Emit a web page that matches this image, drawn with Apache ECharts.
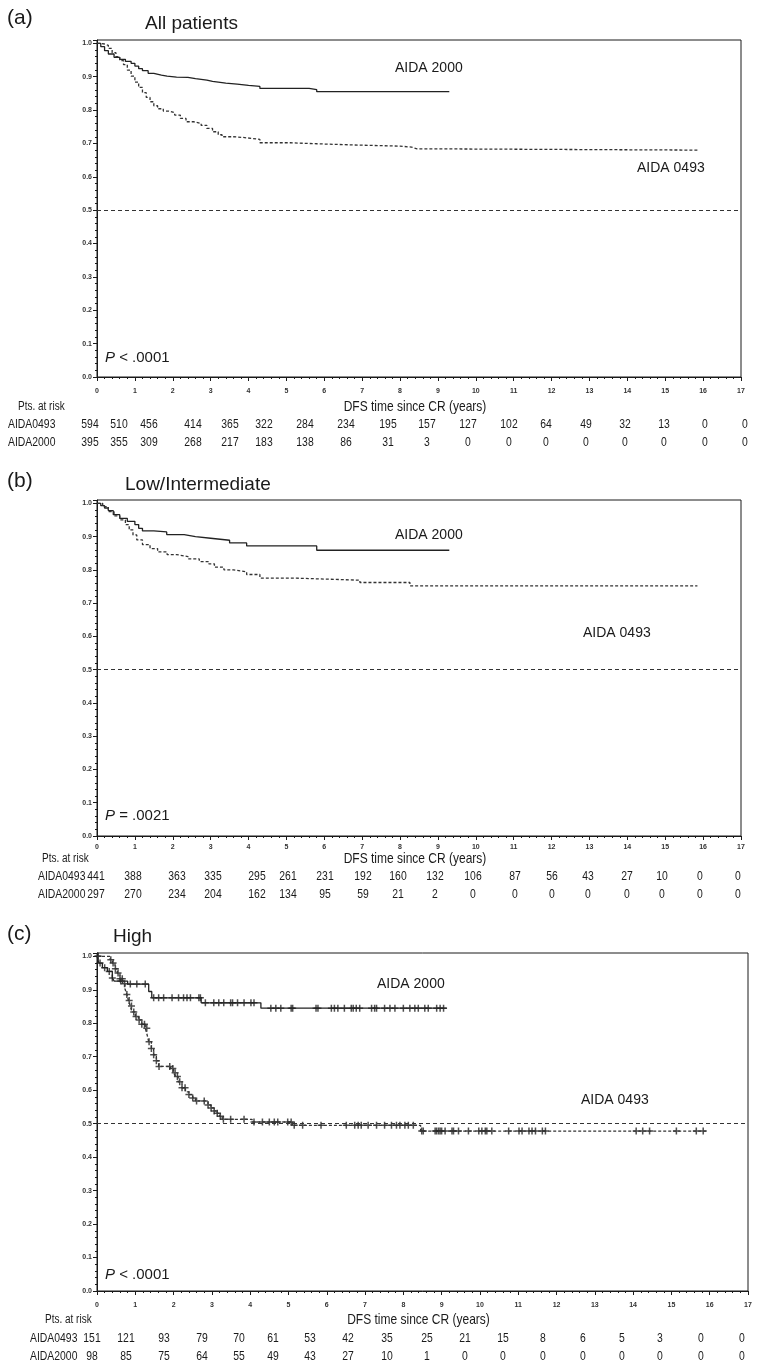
<!DOCTYPE html>
<html>
<head>
<meta charset="utf-8">
<script src="https://cdn.jsdelivr.net/npm/echarts@6/dist/echarts.min.js"></script>
<style>
html,body{margin:0;padding:0;background:#fff;}
#chart{width:770px;height:1370px;}
</style>
</head>
<body>
<div id="chart"></div>
<script>
// ---------------- DATA ----------------
const years = [0,1,2,3,4,5,6,7,8,9,10,11,12,13,14,15,16,17];

// Panel (a) All patients: Kaplan-Meier steps [time (years), DFS]
const a2000 = [[0,1.0],[0.1,0.99],[0.2,0.978],[0.3,0.968],[0.45,0.958],[0.6,0.952],[0.75,0.946],[0.9,0.94],[1.0,0.932],[1.1,0.924],[1.2,0.918],[1.35,0.91],[1.5,0.905],[1.7,0.902],[1.85,0.899],[2.1,0.898],[2.4,0.894],[2.6,0.89],[2.9,0.886],[3.05,0.881],[3.4,0.878],[3.7,0.874],[4.0,0.871],[4.3,0.865],[5.6,0.861],[5.8,0.855],[9.3,0.855]];
const a0493 = [[0,1.0],[0.1,0.998],[0.2,0.994],[0.3,0.985],[0.4,0.972],[0.5,0.96],[0.6,0.948],[0.7,0.936],[0.8,0.92],[0.9,0.902],[1.0,0.884],[1.1,0.868],[1.2,0.852],[1.3,0.838],[1.4,0.825],[1.5,0.813],[1.6,0.804],[1.75,0.797],[1.9,0.792],[2.05,0.785],[2.2,0.775],[2.35,0.765],[2.55,0.76],[2.75,0.754],[2.9,0.745],[3.05,0.735],[3.2,0.726],[3.3,0.72],[3.6,0.718],[3.85,0.715],[4.1,0.712],[4.3,0.702],[5.1,0.699],[5.8,0.695],[6.9,0.692],[8.0,0.689],[8.3,0.684],[8.45,0.68],[15.9,0.68]];

// Panel (b) Low/Intermediate
const b2000 = [[0,1.0],[0.1,0.993],[0.2,0.986],[0.3,0.978],[0.43,0.966],[0.6,0.955],[0.8,0.946],[1.0,0.936],[1.1,0.925],[1.2,0.917],[1.5,0.914],[1.84,0.906],[2.3,0.9],[2.6,0.895],[3.0,0.889],[3.5,0.881],[3.95,0.872],[5.8,0.859],[9.3,0.859]];
const b0493 = [[0,1.0],[0.15,0.99],[0.3,0.975],[0.45,0.962],[0.6,0.95],[0.75,0.936],[0.85,0.92],[0.95,0.905],[1.05,0.89],[1.2,0.876],[1.4,0.864],[1.6,0.854],[1.85,0.846],[2.1,0.84],[2.4,0.833],[2.7,0.825],[2.95,0.818],[3.1,0.808],[3.35,0.8],[3.6,0.794],[3.95,0.786],[4.3,0.775],[5.27,0.769],[6.94,0.762],[8.26,0.752],[15.85,0.752]];

// Panel (c) High
const c2000 = [[0,1.0],[0.05,0.98],[0.14,0.966],[0.27,0.955],[0.4,0.935],[0.45,0.926],[0.8,0.917],[1.35,0.895],[1.43,0.876],[2.72,0.861],[4.28,0.845],[9.13,0.845]];
const c0493 = [[0,1.0],[0.34,0.99],[0.4,0.98],[0.47,0.963],[0.53,0.95],[0.6,0.933],[0.67,0.918],[0.73,0.903],[0.78,0.886],[0.82,0.868],[0.87,0.852],[0.91,0.834],[1.0,0.82],[1.08,0.81],[1.17,0.797],[1.26,0.785],[1.31,0.765],[1.35,0.745],[1.42,0.725],[1.48,0.706],[1.55,0.688],[1.61,0.671],[1.92,0.665],[2.0,0.652],[2.05,0.641],[2.12,0.625],[2.22,0.607],[2.31,0.595],[2.4,0.587],[2.5,0.577],[2.57,0.568],[2.83,0.566],[2.9,0.556],[2.97,0.547],[3.05,0.538],[3.14,0.531],[3.2,0.522],[3.27,0.513],[4.05,0.505],[5.1,0.495],[8.45,0.478],[15.96,0.478]];
// censored observation times (years), panel (c)
const c2000Cens = [0.02,0.08,0.2,0.32,0.4,0.62,0.87,1.04,1.26,1.48,1.61,1.74,1.96,2.13,2.26,2.35,2.44,2.66,2.7,2.83,3.05,3.18,3.31,3.49,3.54,3.67,3.84,4.02,4.1,4.54,4.67,4.8,5.07,5.11,5.72,5.77,6.12,6.2,6.29,6.46,6.64,6.69,6.77,6.86,7.17,7.25,7.3,7.51,7.65,7.78,8.0,8.17,8.3,8.39,8.56,8.65,8.87,8.96,9.05];
const c0493Cens = [0.03,0.36,0.42,0.48,0.55,0.6,0.66,0.72,0.78,0.84,0.9,0.96,1.02,1.1,1.17,1.24,1.3,1.36,1.42,1.48,1.55,1.62,1.9,1.98,2.04,2.1,2.16,2.22,2.3,2.4,2.5,2.6,2.8,2.9,2.98,3.06,3.14,3.22,3.3,3.49,3.84,4.1,4.32,4.5,4.63,4.72,4.98,5.07,5.15,5.37,5.85,6.51,6.73,6.82,6.9,7.08,7.3,7.51,7.69,7.82,7.91,8.04,8.13,8.26,8.48,8.52,8.83,8.87,8.92,8.96,9.0,9.09,9.27,9.31,9.44,9.7,9.97,10.05,10.14,10.18,10.31,10.75,11.02,11.1,11.28,11.36,11.45,11.63,11.71,14.08,14.25,14.43,15.13,15.65,15.83];

// Patients at risk (years 0..17)
const aRisk0493 = [594,510,456,414,365,322,284,234,195,157,127,102,64,49,32,13,0,0];
const aRisk2000 = [395,355,309,268,217,183,138,86,31,3,0,0,0,0,0,0,0,0];
const bRisk0493 = [441,388,363,335,295,261,231,192,160,132,106,87,56,43,27,10,0,0];
const bRisk2000 = [297,270,234,204,162,134,95,59,21,2,0,0,0,0,0,0,0,0];
const cRisk0493 = [151,121,93,79,70,61,53,42,35,25,21,15,8,6,5,3,0,0];
const cRisk2000 = [98,85,75,64,55,49,43,27,10,1,0,0,0,0,0,0,0,0];

const titles = ['All patients','Low/Intermediate','High'];
const panelTags = ['(a)','(b)','(c)'];
const pTexts = ['< .0001','= .0021','< .0001'];

// ---------------- LAYOUT ----------------
const FONT = '"Liberation Sans", Arial, Helvetica, sans-serif';
const NARROW_SCALE = 0.8;
const INK = '#1a1a1a';
const grids = [
  {left:97, top:40,  width:644, height:337},
  {left:97, top:500, width:644, height:336},
  {left:97, top:953, width:651, height:338}
];
const xLabelMargin = [11, 8, 11];
const colX = [
  [90,119,149,193,230,264,305,346,388,427,468,509,546,586,625,664,705,745],
  [96,133,177,213,257,288,325,363,398,435,473,515,552,588,627,662,700,738],
  [92,126,164,202,239,273,310,348,387,427,465,503,543,583,622,660,701,742]
];
const panelLayout = [
  {tagY:18, titleX:145, titleY:24, s2000:[395,68], s0493:[637,168], pY:358, ptsX:18, ptsY:407, rowX:8,  rowY:[424,442], dfsY:407},
  {tagY:481, titleX:125, titleY:485, s2000:[395,535], s0493:[583,633], pY:816, ptsX:42, ptsY:859, rowX:38, rowY:[876,894], dfsY:859},
  {tagY:934, titleX:113, titleY:937, s2000:[377,984], s0493:[581,1100], pY:1275, ptsX:45, ptsY:1320, rowX:30, rowY:[1338,1356], dfsY:1320}
];
const curves = [[a2000,a0493],[b2000,b0493],[c2000,c0493]];
const risks = [[aRisk0493,aRisk2000],[bRisk0493,bRisk2000],[cRisk0493,cRisk2000]];

function valAt(curve, t){
  let v = curve[0][1];
  for (const p of curve){ if (p[0] <= t) v = p[1]; else break; }
  return v;
}

const chart = echarts.init(document.getElementById('chart'), null, {renderer:'canvas'});

const xAxes = [], yAxes = [], series = [], graphics = [];
grids.forEach((g, i) => {
  xAxes.push({
    type:'value', gridIndex:i, min:0, max:17, interval:1,
    axisLine:{show:true, onZero:false, lineStyle:{color:INK, width:1}},
    axisTick:{show:true, length:4, lineStyle:{color:INK}},
    minorTick:{show:true, splitNumber:5, length:2, lineStyle:{color:INK}},
    axisLabel:{fontSize:7, fontWeight:'bold', color:'#333', margin:xLabelMargin[i], fontFamily:FONT},
    splitLine:{show:false}, minorSplitLine:{show:false}
  });
  yAxes.push({
    type:'value', gridIndex:i, min:0, max:1.01, interval:0.1,
    axisLine:{show:true, onZero:false, lineStyle:{color:INK, width:1}},
    axisTick:{show:true, length:4, lineStyle:{color:INK}},
    minorTick:{show:true, splitNumber:5, length:2, lineStyle:{color:INK}},
    axisLabel:{fontSize:7, fontWeight:'bold', color:'#333', margin:5, fontFamily:FONT, showMaxLabel:false,
      formatter: v => (Math.abs(v*10 - Math.round(v*10)) < 1e-6 ? v.toFixed(1) : '')},
    splitLine:{show:false}
  });
  const [c2, c4] = curves[i];
  series.push({
    type:'line', xAxisIndex:i, yAxisIndex:i, data:c2, step:'end', showSymbol:false, symbol:'none',
    lineStyle:{color:'#222', width:1.3, type:'solid'}, silent:true, animation:false,
    markLine:{symbol:'none', silent:true, animation:false, label:{show:false},
      lineStyle:{color:'#333', width:1, type:[4,3]}, data:[{yAxis:0.5}]}
  });
  series.push({
    type:'line', xAxisIndex:i, yAxisIndex:i, data:c4, step:'end', showSymbol:false, symbol:'none',
    lineStyle:{color:'#333', width:1.3, type:[3,2]}, silent:true, animation:false
  });

  const L = panelLayout[i];
  const txt = (x, y, text, size, align, sx) => graphics.push({
    type:'text', silent:true, x, y, scaleX: sx || 1,
    style: {text, x:0, y:0, fill:INK, fontSize:size, fontFamily:FONT,
      align: align || 'left', verticalAlign:'middle', textAlign: align || 'left', textVerticalAlign:'middle'}
  });
  txt(7, L.tagY, panelTags[i], 21);
  txt(L.titleX, L.titleY, titles[i], 19);
  txt(L.s2000[0], L.s2000[1], 'AIDA 2000', 14);
  txt(L.s0493[0], L.s0493[1], 'AIDA 0493', 14);
  graphics.push({type:'text', silent:true, x:105, y:L.pY, style:{
    text:'{i|P} ' + pTexts[i], x:0, y:0, fill:INK, fontSize:15, fontFamily:FONT,
    align:'left', verticalAlign:'middle', textAlign:'left', textVerticalAlign:'middle',
    rich:{i:{fontStyle:'italic', fontSize:15, fontFamily:FONT, fill:INK}}
  }});
  txt(L.ptsX, L.ptsY, 'Pts. at risk', 12.5, 'left', NARROW_SCALE);
  txt(g.left + g.width/2 - 4, L.dfsY, 'DFS time since CR (years)', 15, 'center', NARROW_SCALE);
  txt(L.rowX, L.rowY[0], 'AIDA0493', 13, 'left', NARROW_SCALE);
  txt(L.rowX, L.rowY[1], 'AIDA2000', 13, 'left', NARROW_SCALE);
  risks[i].forEach((arr, r) => {
    arr.forEach((n, k) => txt(colX[i][k], L.rowY[r], String(n), 13, 'center', NARROW_SCALE));
  });
});

// censor marks (panel c)
const plus = 'path://M2.75,0h1.5v2.75h2.75v1.5h-2.75v2.75h-1.5v-2.75h-2.75v-1.5h2.75z';
series.push({type:'scatter', xAxisIndex:2, yAxisIndex:2, symbol:plus, symbolSize:7, silent:true, animation:false,
  itemStyle:{color:'#222'}, data:c2000Cens.map(t => [t, valAt(c2000, t)])});
series.push({type:'scatter', xAxisIndex:2, yAxisIndex:2, symbol:plus, symbolSize:7, silent:true, animation:false,
  itemStyle:{color:'#222'}, data:c0493Cens.map(t => [t, valAt(c0493, t)])});

chart.setOption({
  animation:false,
  backgroundColor:'#fff',
  grid: grids.map(g => Object.assign({show:true, borderColor:INK, borderWidth:1, backgroundColor:'transparent', containLabel:false}, g)),
  xAxis: xAxes, yAxis: yAxes, series, graphic: graphics
});
</script>
</body>
</html>
